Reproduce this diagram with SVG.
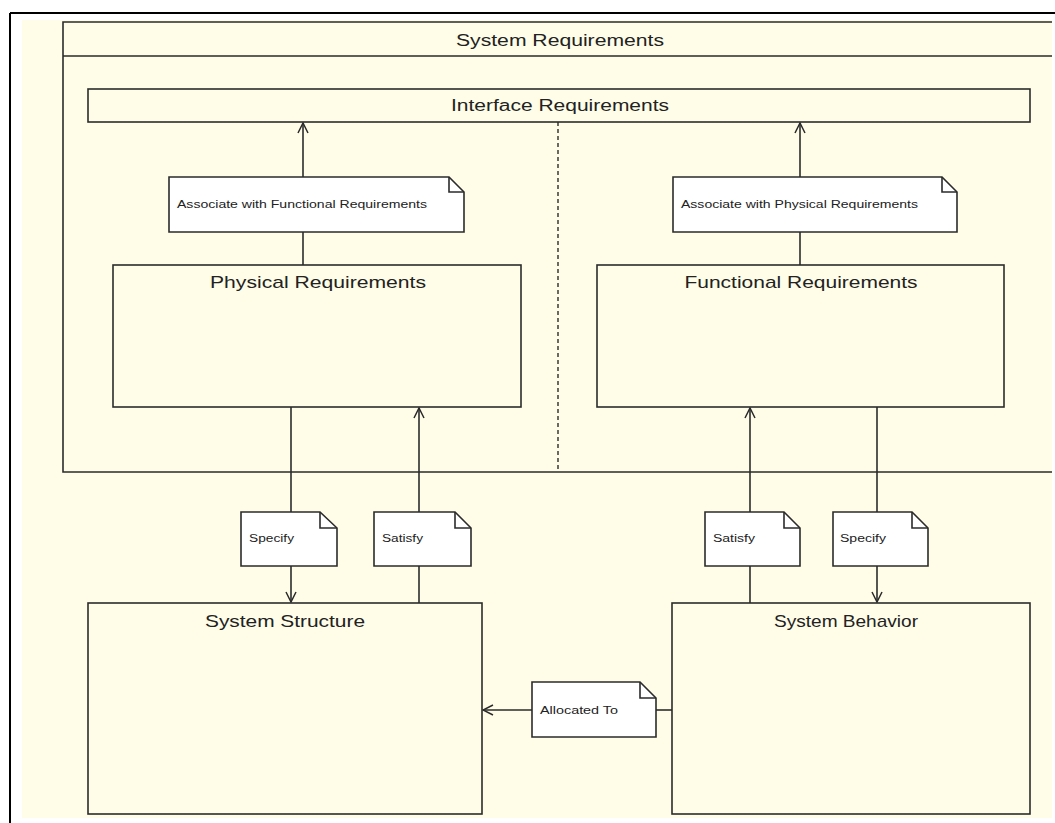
<svg xmlns="http://www.w3.org/2000/svg" width="1055" height="823" viewBox="0 0 1055 823">
  <style>
    .box { fill: #FFFDE8; stroke: #2b2b2b; stroke-width: 1.6; }
    .line { fill: none; stroke: #2b2b2b; stroke-width: 1.6; }
    .note { fill: #FFFFFF; stroke: #2b2b2b; stroke-width: 1.6; }
    .title { font-family: "Liberation Sans", Arial, sans-serif; font-size: 16px; fill: #222; text-anchor: middle; }
    .big { font-family: "Liberation Sans", Arial, sans-serif; font-size: 17px; fill: #222; text-anchor: middle; }
    .small { font-family: "Liberation Sans", Arial, sans-serif; font-size: 10px; fill: #222; }
  </style>
  <defs>
    <marker id="open" viewBox="0 0 12 12" refX="11" refY="6" markerWidth="12" markerHeight="12" markerUnits="userSpaceOnUse" orient="auto">
      <path d="M1,1 L11,6 L1,11" fill="none" stroke="#2b2b2b" stroke-width="1.5"/>
    </marker>
  </defs>

  <!-- page -->
  <rect x="0" y="0" width="1055" height="823" fill="#FFFFFF"/>
  <rect x="22" y="20" width="1030" height="798" fill="#FFFDE8"/>
  <path d="M10,13 H1055 M10,13 V823" fill="none" stroke="#000" stroke-width="2"/>

  <!-- System Requirements container -->
  <g id="system-requirements">
    <path class="line" d="M1052,22 H63 V472 H1052 M63,56 H1052"/>
    <text class="title" x="560" y="46" textLength="208" lengthAdjust="spacingAndGlyphs">System Requirements</text>
    <line x1="558" y1="122" x2="558" y2="472" stroke="#2b2b2b" stroke-width="1.4" stroke-dasharray="4,3"/>
  </g>

  <g id="interface-requirements">
    <rect class="box" x="88" y="89" width="942" height="33"/>
    <text class="title" x="560" y="111" textLength="218" lengthAdjust="spacingAndGlyphs">Interface Requirements</text>
  </g>

  <g id="physical-requirements">
    <rect class="box" x="113" y="265" width="408" height="142"/>
    <text class="big" x="318" y="288" textLength="216" lengthAdjust="spacingAndGlyphs">Physical Requirements</text>
  </g>

  <g id="functional-requirements">
    <rect class="box" x="597" y="265" width="407" height="142"/>
    <text class="big" x="801" y="288" textLength="233" lengthAdjust="spacingAndGlyphs">Functional Requirements</text>
  </g>

  <g id="system-structure">
    <rect class="box" x="88" y="603" width="394" height="211"/>
    <text class="big" x="285" y="627" textLength="160" lengthAdjust="spacingAndGlyphs">System Structure</text>
  </g>

  <g id="system-behavior">
    <rect class="box" x="672" y="603" width="358" height="211"/>
    <text class="big" x="846" y="627" textLength="144" lengthAdjust="spacingAndGlyphs">System Behavior</text>
  </g>

  <!-- connectors -->
  <g id="connectors">
    <line class="line" x1="303" y1="177" x2="303" y2="123" marker-end="url(#open)"/>
    <line class="line" x1="303" y1="232" x2="303" y2="265"/>
    <line class="line" x1="800" y1="177" x2="800" y2="123" marker-end="url(#open)"/>
    <line class="line" x1="800" y1="232" x2="800" y2="265"/>
    <line class="line" x1="291" y1="407" x2="291" y2="512"/>
    <line class="line" x1="291" y1="566" x2="291" y2="602" marker-end="url(#open)"/>
    <line class="line" x1="419" y1="603" x2="419" y2="566"/>
    <line class="line" x1="419" y1="512" x2="419" y2="408" marker-end="url(#open)"/>
    <line class="line" x1="750" y1="603" x2="750" y2="566"/>
    <line class="line" x1="750" y1="512" x2="750" y2="408" marker-end="url(#open)"/>
    <line class="line" x1="877" y1="407" x2="877" y2="512"/>
    <line class="line" x1="877" y1="566" x2="877" y2="602" marker-end="url(#open)"/>
    <line class="line" x1="672" y1="710" x2="656" y2="710"/>
    <line class="line" x1="532" y1="710" x2="483" y2="710" marker-end="url(#open)"/>
  </g>

  <!-- notes -->
  <g id="note-assoc-functional">
    <path class="note" d="M169,177 H449 L464,192 V232 H169 Z"/>
    <path class="line" d="M449,177 V192 H464"/>
    <text class="small" x="177" y="208" textLength="250" lengthAdjust="spacingAndGlyphs">Associate with Functional Requirements</text>
  </g>
  <g id="note-assoc-physical">
    <path class="note" d="M673,177 H942 L957,192 V232 H673 Z"/>
    <path class="line" d="M942,177 V192 H957"/>
    <text class="small" x="681" y="208" textLength="237" lengthAdjust="spacingAndGlyphs">Associate with Physical Requirements</text>
  </g>
  <g id="note-specify-structure">
    <path class="note" d="M241,512 H320 L337,528 V566 H241 Z"/>
    <path class="line" d="M320,512 V528 H337"/>
    <text class="small" x="249" y="542" textLength="45" lengthAdjust="spacingAndGlyphs">Specify</text>
  </g>
  <g id="note-satisfy-physical">
    <path class="note" d="M374,512 H455 L471,528 V566 H374 Z"/>
    <path class="line" d="M455,512 V528 H471"/>
    <text class="small" x="382" y="542" textLength="41" lengthAdjust="spacingAndGlyphs">Satisfy</text>
  </g>
  <g id="note-satisfy-functional">
    <path class="note" d="M705,512 H784 L800,528 V566 H705 Z"/>
    <path class="line" d="M784,512 V528 H800"/>
    <text class="small" x="713" y="542" textLength="42" lengthAdjust="spacingAndGlyphs">Satisfy</text>
  </g>
  <g id="note-specify-behavior">
    <path class="note" d="M833,512 H912 L928,528 V566 H833 Z"/>
    <path class="line" d="M912,512 V528 H928"/>
    <text class="small" x="840" y="542" textLength="46" lengthAdjust="spacingAndGlyphs">Specify</text>
  </g>
  <g id="note-allocated">
    <path class="note" d="M532,682 H640 L656,698 V737 H532 Z"/>
    <path class="line" d="M640,682 V698 H656"/>
    <text class="small" x="540" y="714" textLength="78" lengthAdjust="spacingAndGlyphs">Allocated To</text>
  </g>
</svg>
